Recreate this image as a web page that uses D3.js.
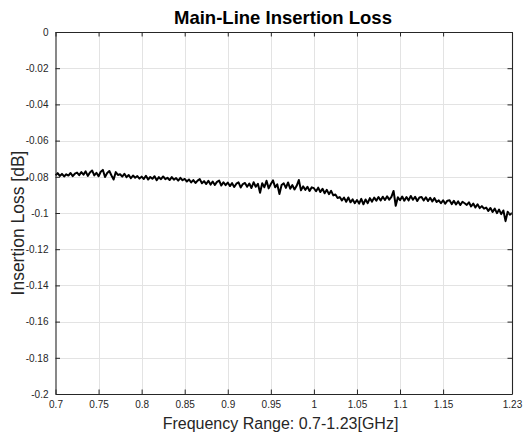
<!DOCTYPE html>
<html><head><meta charset="utf-8">
<script src="https://cdn.jsdelivr.net/npm/d3@7"></script>
<style>body{margin:0;background:#fff;} svg{display:block;}</style>
</head><body>
<script>
// Frequency sweep: 0.7 GHz start, 0.0025 GHz step
const freqStart = 0.7;
const freqStep = 0.0025;
const lossValues = [
-0.0792,-0.0780,-0.0795,-0.0784,-0.0798,-0.0786,-0.0793,-0.0779,-0.0796,-0.0783,
-0.0777,-0.0791,-0.0774,-0.0788,-0.0770,-0.0795,-0.0776,-0.0765,-0.0792,-0.0778,
-0.0797,-0.0772,-0.0762,-0.0801,-0.0779,-0.0768,-0.0793,-0.0815,-0.0774,-0.0790,
-0.0786,-0.0799,-0.0783,-0.0802,-0.0790,-0.0808,-0.0793,-0.0805,-0.0796,-0.0810,
-0.0799,-0.0812,-0.0794,-0.0815,-0.0801,-0.0811,-0.0797,-0.0819,-0.0802,-0.0813,
-0.0798,-0.0813,-0.0805,-0.0818,-0.0802,-0.0816,-0.0807,-0.0821,-0.0806,-0.0819,
-0.0812,-0.0826,-0.0815,-0.0831,-0.0818,-0.0834,-0.0821,-0.0813,-0.0836,-0.0824,
-0.0840,-0.0822,-0.0843,-0.0826,-0.0845,-0.0828,-0.0821,-0.0848,-0.0830,-0.0846,
-0.0832,-0.0851,-0.0835,-0.0856,-0.0838,-0.0831,-0.0859,-0.0840,-0.0834,-0.0855,
-0.0837,-0.0862,-0.0830,-0.0855,-0.0839,-0.0888,-0.0836,-0.0858,-0.0822,-0.0864,
-0.0840,-0.0820,-0.0858,-0.0842,-0.0895,-0.0845,-0.0836,-0.0861,-0.0831,-0.0866,
-0.0846,-0.0870,-0.0850,-0.0818,-0.0875,-0.0853,-0.0872,-0.0855,-0.0878,-0.0858,
-0.0863,-0.0880,-0.0860,-0.0884,-0.0866,-0.0891,-0.0872,-0.0896,-0.0878,-0.0903,
-0.0898,-0.0917,-0.0912,-0.0930,-0.0915,-0.0938,-0.0914,-0.0941,-0.0925,-0.0946,
-0.0928,-0.0948,-0.0922,-0.0952,-0.0925,-0.0946,-0.0918,-0.0937,-0.0915,-0.0932,
-0.0912,-0.0931,-0.0910,-0.0928,-0.0908,-0.0926,-0.0911,-0.0878,-0.0960,-0.0913,
-0.0929,-0.0909,-0.0932,-0.0912,-0.0930,-0.0906,-0.0927,-0.0910,-0.0934,-0.0914,
-0.0911,-0.0931,-0.0913,-0.0934,-0.0916,-0.0936,-0.0918,-0.0939,-0.0930,-0.0946,
-0.0930,-0.0949,-0.0932,-0.0930,-0.0951,-0.0933,-0.0953,-0.0936,-0.0956,-0.0938,
-0.0946,-0.0955,-0.0941,-0.0964,-0.0948,-0.0970,-0.0952,-0.0973,-0.0962,-0.0976,
-0.0970,-0.0988,-0.0972,-0.0994,-0.0976,-0.1001,-0.0981,-0.1006,-0.0986,-0.1045,
-0.0993,-0.1009,-0.1000
];
const xTicks = [0.7,0.75,0.8,0.85,0.9,0.95,1,1.05,1.1,1.15,1.23];
const xTickLabels = ["0.7","0.75","0.8","0.85","0.9","0.95","1","1.05","1.1","1.15","1.23"];
const yTicks = [0,-0.02,-0.04,-0.06,-0.08,-0.1,-0.12,-0.14,-0.16,-0.18,-0.2];
const yTickLabels = ["0","-0.02","-0.04","-0.06","-0.08","-0.1","-0.12","-0.14","-0.16","-0.18","-0.2"];
const titleText = "Main-Line Insertion Loss";
const xLabelText = "Frequency Range: 0.7-1.23[GHz]";
const yLabelText = "Insertion Loss [dB]";

const W = 524, H = 437;
const m = {left: 55.5, right: 512, top: 32, bottom: 394};
const svg = d3.select("body").append("svg").attr("width", W).attr("height", H);
const font = "Arial, 'Liberation Sans', Helvetica, sans-serif";
const axCol = "#262626";

const x = d3.scaleLinear().domain([0.7, 1.23]).range([m.left, m.right]);
const y = d3.scaleLinear().domain([-0.2, 0]).range([m.bottom, m.top]);

// grid
const g = svg.append("g");
g.selectAll(".vg").data(xTicks.slice(1, -1)).join("line")
  .attr("x1", d => Math.round(x(d)) + 0.5).attr("x2", d => Math.round(x(d)) + 0.5)
  .attr("y1", m.top).attr("y2", m.bottom)
  .attr("stroke", "#e3e3e3").attr("stroke-width", 1);
g.selectAll(".hg").data(yTicks.slice(1, -1)).join("line")
  .attr("y1", d => Math.round(y(d)) + 0.5).attr("y2", d => Math.round(y(d)) + 0.5)
  .attr("x1", m.left).attr("x2", m.right)
  .attr("stroke", "#e3e3e3").attr("stroke-width", 1);

// data line
const data = lossValues.map((v, i) => ({f: freqStart + i * freqStep, v}));
svg.append("path").datum(data)
  .attr("fill", "none").attr("stroke", "#000").attr("stroke-width", 2)
  .attr("stroke-linejoin", "round")
  .attr("d", d3.line().x(d => x(d.f)).y(d => y(d.v)));

// axes (ticks inward)
const tl = 4.5;
const xb = svg.append("g").attr("transform", `translate(0,${m.bottom})`)
  .call(d3.axisBottom(x).tickValues(xTicks).tickFormat((d, i) => xTickLabels[i]).tickSizeInner(-tl).tickSizeOuter(0).tickPadding(7));
const yl = svg.append("g").attr("transform", `translate(${m.left},0)`)
  .call(d3.axisLeft(y).tickValues(yTicks).tickFormat((d, i) => yTickLabels[i]).tickSizeInner(-tl).tickSizeOuter(0).tickPadding(7));
const xt = svg.append("g").attr("transform", `translate(0,${m.top})`)
  .call(d3.axisTop(x).tickValues(xTicks).tickFormat("").tickSizeInner(-tl).tickSizeOuter(0));
const yr = svg.append("g").attr("transform", `translate(${m.right},0)`)
  .call(d3.axisRight(y).tickValues(yTicks).tickFormat("").tickSizeInner(-tl).tickSizeOuter(0));
[xb, yl, xt, yr].forEach(a => {
  a.select(".domain").attr("stroke", axCol).attr("stroke-width", 1.1);
  a.selectAll(".tick line").attr("stroke", axCol);
  a.selectAll("text").attr("fill", axCol).style("font-family", font).style("font-size", "10px");
});
xb.selectAll("text").attr("dy", "0.71em");

// labels
svg.append("text").attr("x", 283).attr("y", 24)
  .attr("text-anchor", "middle").style("font-family", font).style("font-weight", "bold")
  .style("font-size", "18.5px").attr("fill", "#000").text(titleText);
svg.append("text").attr("x", 280.5).attr("y", 429)
  .attr("text-anchor", "middle").style("font-family", font)
  .style("font-size", "16px").attr("fill", axCol).text(xLabelText);
svg.append("text").attr("transform", `translate(24,223) rotate(-90)`)
  .attr("text-anchor", "middle").style("font-family", font)
  .style("font-size", "17.5px").attr("fill", axCol).text(yLabelText);
</script>
</body></html>
